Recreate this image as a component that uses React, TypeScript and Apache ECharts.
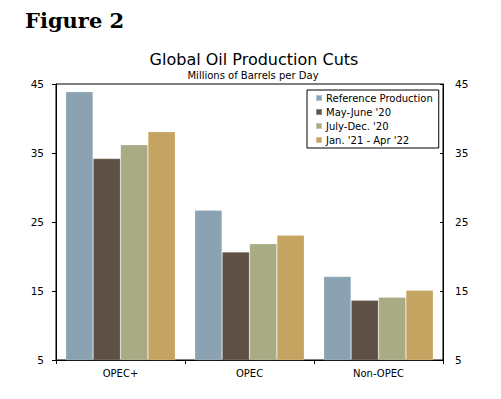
import React, { useEffect, useRef } from "react";
import * as echarts from "echarts";

const categories = ["OPEC+", "OPEC", "Non-OPEC"];
const seriesNames = ["Reference Production", "May-June '20", "July-Dec. '20", "Jan. '21 - Apr '22"];
const referenceProduction = [43.9, 26.7, 17.1];
const mayJune20 = [34.2, 20.65, 13.65];
const julyDec20 = [36.2, 21.85, 14.1];
const jan21Apr22 = [38.1, 23.1, 15.1];
const seriesColors = ["#8aa2b1", "#5e5045", "#a8ab84", "#c4a460"];
const yTicks = { min: 5, max: 45, interval: 10 };

export default function App() {
  const ref = useRef<HTMLDivElement>(null);
  useEffect(() => {
    if (!ref.current) return;
    const chart = echarts.init(ref.current, null, { renderer: "svg" });
    const values = [referenceProduction, mayJune20, julyDec20, jan21Apr22];
    const font = "DejaVu Sans, Verdana, sans-serif";
    const yAxisBase = {
      type: "value" as const,
      min: yTicks.min,
      max: yTicks.max,
      interval: yTicks.interval,
      splitLine: { show: false },
      axisLine: { show: true, lineStyle: { color: "#000", width: 1 } },
      axisTick: { show: true, length: 4, lineStyle: { color: "#000" } },
      axisLabel: { color: "#000", fontSize: 10.5, fontFamily: font, margin: 12 },
    };
    chart.setOption({
      animation: false,
      backgroundColor: "#fff",
      title: [
        {
          text: "Global Oil Production Cuts",
          left: 249,
          top: 46,
          textAlign: "center",
          textStyle: { fontFamily: font, fontSize: 16, fontWeight: "normal", color: "#000" },
        },
        {
          text: "Millions of Barrels per Day",
          left: 248,
          top: 65,
          textAlign: "center",
          textStyle: { fontFamily: font, fontSize: 10, fontWeight: "normal", color: "#000" },
        },
      ],
      graphic: [
        {
          type: "text",
          left: 25,
          top: 10,
          style: {
            text: "Figure 2",
            font: "bold 21px 'DejaVu Serif', Georgia, serif",
            fill: "#000",
          },
        },
      ],
      legend: {
        orient: "vertical",
        left: 307,
        top: 90,
        width: 130,
        data: seriesNames,
        itemWidth: 6,
        itemHeight: 6,
        itemGap: 4,
        padding: [3, 6, 3, 8],
        borderColor: "#000",
        borderWidth: 1,
        backgroundColor: "#fff",
        icon: "rect",
        textStyle: { fontFamily: font, fontSize: 10, color: "#000", lineHeight: 10, padding: [0, 0, 0, -1] },
      },
      grid: { left: 56, right: 58, top: 84, bottom: 39, show: true, borderColor: "#000", borderWidth: 1, containLabel: false },
      xAxis: {
        type: "category",
        data: categories,
        axisLine: { lineStyle: { color: "#000", width: 1 } },
        axisTick: { show: true, length: 4, lineStyle: { color: "#000" } },
        axisLabel: { color: "#000", fontSize: 10, fontFamily: font, margin: 8 },
      },
      yAxis: [
        { ...yAxisBase, position: "left" },
        { ...yAxisBase, position: "right", axisTick: { show: true, length: 3, inside: true, lineStyle: { color: "#000" } }, axisLabel: { ...yAxisBase.axisLabel, margin: 12 } },
      ],
      series: seriesNames.map((name, i) => ({
        name,
        type: "bar",
        yAxisIndex: 0,
        data: values[i],
        barGap: "0%",
        barCategoryGap: "15%",
        itemStyle: { color: seriesColors[i], borderColor: "rgba(255,255,255,0.35)", borderWidth: 0.6 },
      })),
    });
    return () => chart.dispose();
  }, []);
  return <div ref={ref} style={{ position: "absolute", left: 0, top: 0, width: 501, height: 399 }} />;
}
